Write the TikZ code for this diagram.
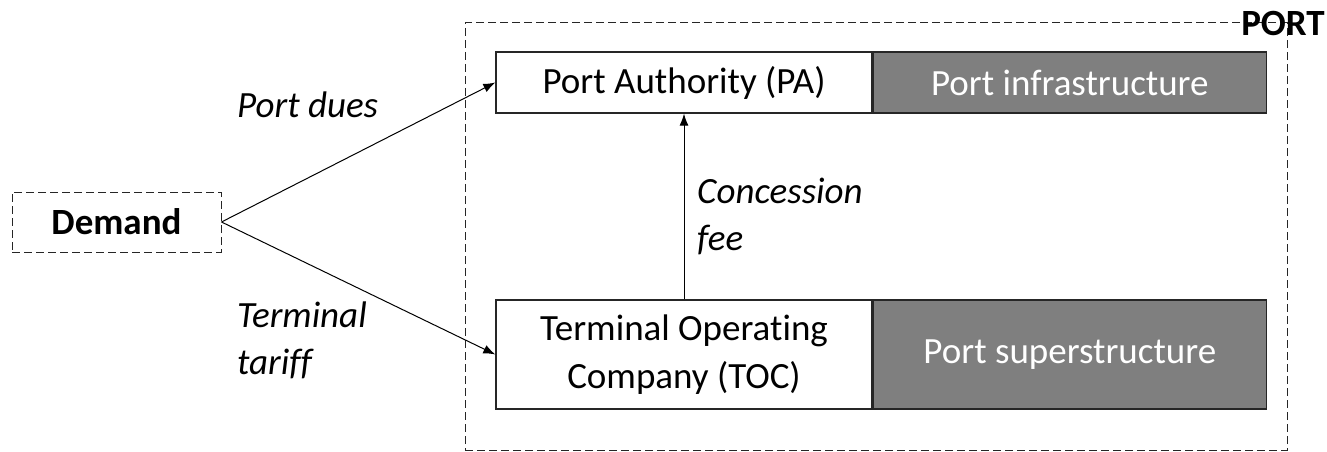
\documentclass[tikz,border=0pt]{standalone}
\usepackage{fontspec}
\setmainfont{Carlito}[Ligatures=NoCommon]
\usetikzlibrary{arrows.meta}
\definecolor{boxgrey}{HTML}{7F7F7F}
\begin{document}
\begin{tikzpicture}[x=1pt,y=-1pt,
  every node/.style={font=\fontsize{37}{48}\selectfont},
  solidbox/.style={draw=black!85, line width=1.3pt, inner sep=0pt, align=center},
  greybox/.style={solidbox, fill=boxgrey, text=white},
  dashbox/.style={draw=black!85, line width=1pt, dash pattern=on 8pt off 4pt, inner sep=0pt},
  flow/.style={-{Latex[length=12pt,width=9pt]}, line width=1pt},
  lbl/.style={font=\fontsize{37}{47}\selectfont\itshape, align=left, inner sep=0pt}]
\useasboundingbox (0,0) rectangle (1327,452);
\node[dashbox, minimum width=822pt, minimum height=427pt] (port) at (876,236.5) {};
\node[inner sep=0pt, font=\fontsize{37}{44}\selectfont\bfseries] (portlbl) at (1283,23) {PORT};
\node[dashbox, minimum width=209pt, minimum height=60pt, font=\fontsize{37}{44}\selectfont\bfseries] (demand) at (116.5,222) {Demand};
\node[solidbox, minimum width=376pt, minimum height=61pt] (pa) at (684,82.5) {Port Authority (PA)};
\node[greybox, minimum width=393pt, minimum height=61pt, anchor=west] (infra) at (pa.east) {Port infrastructure};
\node[solidbox, minimum width=376pt, minimum height=109pt] (toc) at (684,354.5) {Terminal Operating\\Company (TOC)};
\node[greybox, minimum width=393pt, minimum height=109pt, anchor=west] (super) at (toc.east) {Port superstructure};
\draw[flow] (demand.east) -- (pa.west);
\draw[flow] (demand.east) -- (toc.west);
\draw[flow] (toc.north) -- (pa.south);
\node[lbl, anchor=west] (dues) at (237,105) {Port dues};
\node[lbl, anchor=west] (tariff) at (237,340) {Terminal\\tariff};
\node[lbl, anchor=west] (fee) at (697,216) {Concession\\fee};
\end{tikzpicture}
\end{document}
